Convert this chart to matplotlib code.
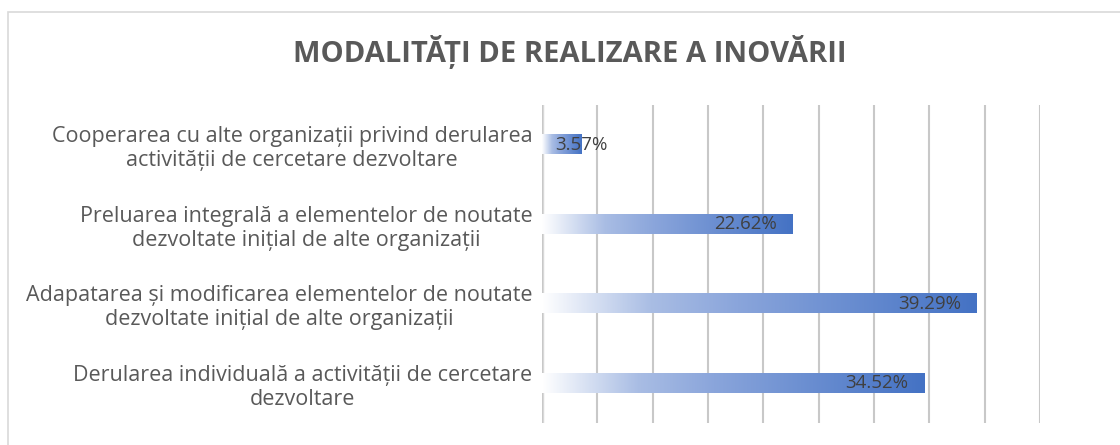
import numpy as np
import matplotlib
matplotlib.use("Agg")
import matplotlib.pyplot as plt
from matplotlib.colors import LinearSegmentedColormap
from matplotlib.patches import Rectangle

title = "MODALITĂȚI DE REALIZARE A INOVĂRII"
categories = [
    "Derularea individuală a activității de cercetare\ndezvoltare",
    "Adapatarea și modificarea elementelor de noutate\ndezvoltate inițial de alte organizații",
    "Preluarea integrală a elementelor de noutate\ndezvoltate inițial de alte organizații",
    "Cooperarea cu alte organizații privind derularea\nactivității de cercetare dezvoltare",
]
values = [34.52, 39.29, 22.62, 3.57]
labels = ["34.52%", "39.29%", "22.62%", "3.57%"]

plt.rcParams['font.family'] = ['Open Sans', 'DejaVu Sans']

fig = plt.figure(figsize=(11.2, 4.45), dpi=100)
fig.patches.append(Rectangle((8 / 1120, -0.1), 1.2, 1 - 12 / 445 + 0.1,
                             transform=fig.transFigure, fill=False,
                             edgecolor="#d9d9d9", linewidth=1.2))

ax = fig.add_axes([542 / 1120, 22 / 445, (1040 - 542) / 1120, (340 - 22) / 445])

cmap = LinearSegmentedColormap.from_list(
    "grad", [(0, "#ffffff"), (0.25, "#a9bde4"), (0.45, "#8aa5db"), (1, "#4472c4")])
grad = np.linspace(0, 1, 256).reshape(1, -1)
bh = 0.24
for i, v in enumerate(values):
    ax.imshow(grad, cmap=cmap, aspect="auto", extent=(0, v, i - bh / 2, i + bh / 2),
              zorder=2, interpolation="bilinear")
    if v > 10:
        ax.text(v - 1.4, i, labels[i], ha="right", va="center", fontsize=13.5,
                color="#404040", zorder=3)
    else:
        ax.text(v, i, labels[i], ha="center", va="center", fontsize=13.5,
                color="#404040", zorder=3)

ax.set_xticks(np.arange(0, 46, 5))
ax.grid(axis="x", color="#c8c8c8", linewidth=1.5, zorder=0)
ax.tick_params(axis="x", length=0, labelbottom=False)
ax.set_yticks(range(len(categories)))
ax.set_yticklabels(categories, fontsize=15.5, color="#595959",
                   multialignment="center", linespacing=1.2)
ax.tick_params(axis="y", length=0, pad=7)
for s in ax.spines.values():
    s.set_visible(False)
ax.axvline(0, color="#d9d9d9", linewidth=2.5, zorder=1)
ax.set_ylim(-0.5, 3.5)
ax.set_xlim(0, 45)

fig.text(570 / 1120, 1 - 52 / 445, title, ha="center", va="center",
         fontsize=21, fontweight="bold", color="#595959")

fig.savefig("out.png", dpi=100)
